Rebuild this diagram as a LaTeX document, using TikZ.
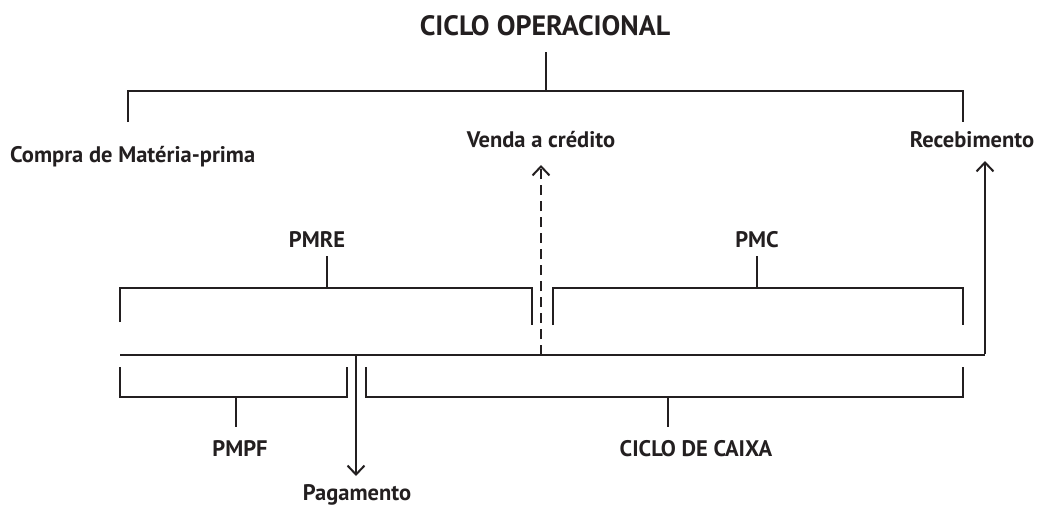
\documentclass[tikz,border=0pt]{standalone}
\usepackage{fontspec}
\setmainfont{PT Sans}
\usetikzlibrary{arrows.meta}
\definecolor{ink}{HTML}{231F20}
\begin{document}
\begin{tikzpicture}[x=1pt,y=-1pt,
  lbl/.style={font=\bfseries\fontsize{22.5}{25}\selectfont, text=ink, inner sep=0pt},
  ttl/.style={font=\bfseries\fontsize{28}{31}\selectfont, text=ink, inner sep=0pt},
  brk/.style={line width=1.8pt, draw=ink},
  tline/.style={line width=2.8pt, draw=ink},
  arr/.style={line width=2.1pt, draw=ink, -{Straight Barb[length=9pt,width=17pt,line width=2pt]}},
  darr/.style={arr, dash pattern=on 10pt off 6pt}]
\useasboundingbox (0,0) rectangle (1045,506);
% title and top bracket
\node[ttl] (title) at (545,26) {CICLO OPERACIONAL};
\coordinate (opC) at (546,52);
\coordinate (opM) at (546,91);
\coordinate (opL) at (128,91);
\coordinate (opR) at (963,91);
\coordinate (opLt) at (128,122);
\coordinate (opRt) at (963,122);
\draw[brk] (opC) -- (opM);
\draw[brk] (opLt) -- (opL) -- (opR) -- (opRt);
% top labels
\node[lbl, anchor=west] (compra) at (10,157) {Compra de Matéria-prima};
\node[lbl] (venda) at (541,140) {Venda a crédito};
\node[lbl] (receb) at (972,140) {Recebimento};
% timeline
\coordinate (t0) at (120,355);
\coordinate (tv) at (541,355);
\coordinate (tp) at (356,355);
\coordinate (t1) at (985,355);
\coordinate (vtip) at (541,165);
\coordinate (rtip) at (985,161);
\coordinate (ptip) at (356,476);
\draw[tline] (t0) -- (t1);
\draw[arr, line width=2.4pt] ([yshift=1.4pt]t1) -- (rtip);
\draw[darr] (tv) -- (vtip);
\draw[arr] (tp) -- (ptip);
\node[lbl] (pag) at (357,495) {Pagamento};
% PMRE
\node[lbl] (pmre) at (317,240) {PMRE};
\coordinate (reS) at (327,256);
\coordinate (reM) at (327,288);
\coordinate (reL) at (120,288);
\coordinate (reR) at (532,288);
\draw[brk] (reS) -- (reM);
\draw[brk] (120,322) -- (reL) -- (reR) -- (532,325);
% PMC
\node[lbl] (pmc) at (757,240) {PMC};
\coordinate (pcS) at (757,256);
\coordinate (pcM) at (757,288);
\coordinate (pcL) at (553,288);
\coordinate (pcR) at (963,288);
\draw[brk] (pcS) -- (pcM);
\draw[brk] (553,325) -- (pcL) -- (pcR) -- (963,325);
% PMPF
\coordinate (pfL) at (120,397);
\coordinate (pfR) at (347,397);
\coordinate (pfM) at (236,397);
\coordinate (pfS) at (236,427);
\draw[brk] (120,367) -- (pfL) -- (pfR) -- (347,367);
\draw[brk] (pfM) -- (pfS);
\node[lbl] (pmpf) at (240,449) {PMPF};
% CICLO DE CAIXA
\coordinate (ccL) at (366,397);
\coordinate (ccR) at (963,397);
\coordinate (ccM) at (668,397);
\coordinate (ccS) at (668,427);
\draw[brk] (366,367) -- (ccL) -- (ccR) -- (963,367);
\draw[brk] (ccM) -- (ccS);
\node[lbl] (cc) at (696,449) {CICLO DE CAIXA};
\end{tikzpicture}
\end{document}
